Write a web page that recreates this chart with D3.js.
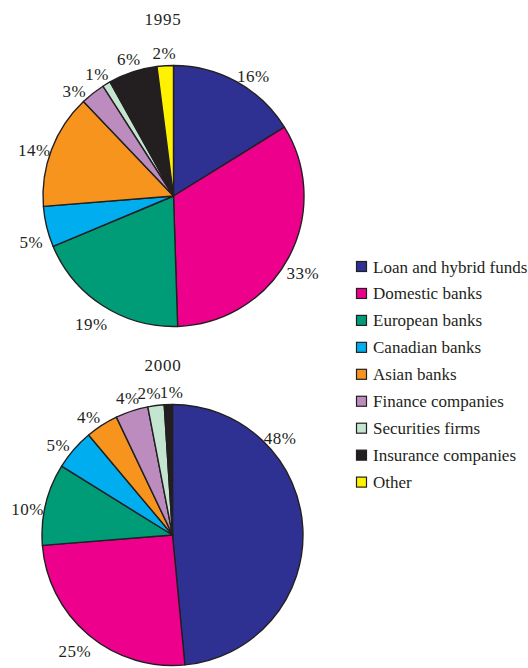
<!DOCTYPE html>
<html>
<head>
<meta charset="utf-8">
<script src="https://cdn.jsdelivr.net/npm/d3@7"></script>
<style>
  html, body { margin: 0; padding: 0; background: #fff; }
  svg { display: block; }
  text { font-family: "Liberation Serif", "DejaVu Serif", serif; fill: #231f20; }
</style>
</head>
<body>
<svg id="chart" width="528" height="668"></svg>
<script>
// Lender categories, in slice order (clockwise from 12 o'clock)
const categories = [
  "Loan and hybrid funds", "Domestic banks", "European banks", "Canadian banks",
  "Asian banks", "Finance companies", "Securities firms", "Insurance companies", "Other"
];
const colors = [
  "#2e3192", "#ec008c", "#009b77", "#00aeef",
  "#f7941d", "#bc8cbf", "#c4e5d0", "#231f20", "#fff200"
];
// Market share (%) by year
const years = ["1995", "2000"];
const share1995 = [16, 33, 19, 5, 14, 3, 1, 6, 2];
const share2000 = [48, 25, 10, 5, 4, 4, 2, 1, 0];

const svg = d3.select("#chart");
const color = d3.scaleOrdinal().domain(categories).range(colors);

const radius = 130.5;
const pies = [
  { year: years[0], values: share1995, cx: 173.5, cy: 196, titleY: 25 },
  { year: years[1], values: share2000, cx: 172.5, cy: 535, titleY: 371 }
];
// angular nudges (radians) for labels that sit away from their slice centre
const labelNudge = {
  "1995|0": 0.08, "1995|1": 0.045, "1995|3": -0.08, "1995|4": -0.05,
  "1995|5": -0.09, "1995|6": -0.02,
  "2000|0": -0.684, "2000|2": -0.065, "2000|3": -0.05, "2000|4": -0.05,
  "2000|6": -0.035, "2000|7": 0.025
};

const pie = d3.pie().sort(null).value(d => d.value);
const arc = d3.arc().innerRadius(0).outerRadius(radius);

pies.forEach(p => {
  const data = categories.map((c, i) => ({ cat: c, value: p.values[i], i }))
    .filter(d => d.value > 0);
  const g = svg.append("g").attr("transform", `translate(${p.cx},${p.cy})`);

  g.selectAll("path")
    .data(pie(data))
    .join("path")
    .attr("d", arc)
    .attr("fill", d => color(d.data.cat))
    .attr("stroke", "#231f20")
    .attr("stroke-width", 1.4)
    .attr("stroke-linejoin", "round");

  g.selectAll("text.pct")
    .data(pie(data))
    .join("text")
    .attr("class", "pct")
    .attr("transform", d => {
      const nudge = labelNudge[p.year + "|" + d.data.i] || 0;
      const a = (d.startAngle + d.endAngle) / 2 + nudge;
      // labels below the centre sit a little further out than those above
      const r = 148 - 5 * Math.cos(a);
      return `translate(${r * Math.sin(a)},${-r * Math.cos(a)})`;
    })
    .attr("text-anchor", "middle")
    .attr("dominant-baseline", "central")
    .attr("font-size", 17)
    .attr("letter-spacing", 0.5)
    .text(d => d.data.value + "%");

  svg.append("text")
    .attr("x", 163)
    .attr("y", p.titleY)
    .attr("text-anchor", "middle")
    .attr("font-size", 17)
    .attr("letter-spacing", 0.8)
    .text(p.year);
});

// Legend
const legend = svg.append("g").attr("transform", "translate(356,267)");
const rowStep = 26.95;
const rows = legend.selectAll("g")
  .data(categories)
  .join("g")
  .attr("transform", (d, i) => `translate(0,${i * rowStep})`);
rows.append("rect")
  .attr("x", 0.5).attr("y", -5.5)
  .attr("width", 10).attr("height", 10)
  .attr("fill", d => color(d))
  .attr("stroke", "#231f20")
  .attr("stroke-width", 1.2);
rows.append("text")
  .attr("x", 17)
  .attr("y", 0)
  .attr("dominant-baseline", "central")
  .attr("font-size", 17)
  .text(d => d);
</script>
</body>
</html>
